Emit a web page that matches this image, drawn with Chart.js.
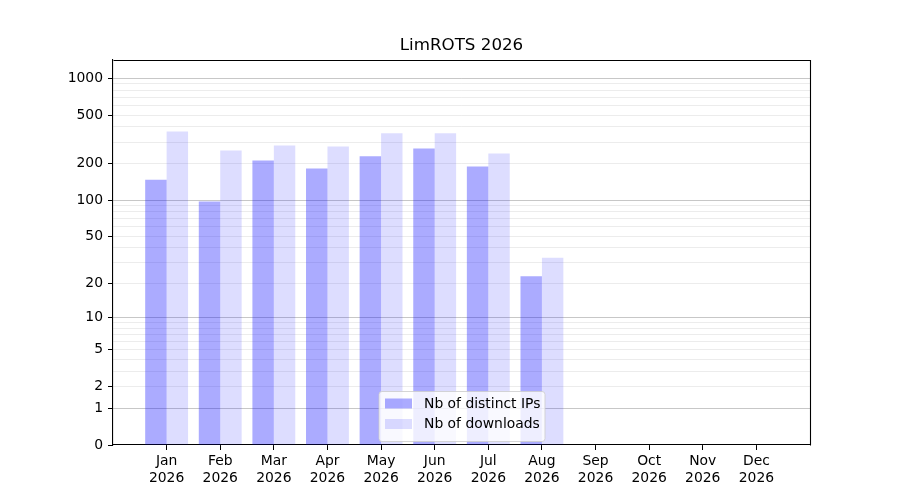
<!DOCTYPE html>
<html>
<head>
<meta charset="utf-8">
<title>LimROTS 2026</title>
<script src="https://cdn.jsdelivr.net/npm/chart.js@4.4.1/dist/chart.umd.min.js"></script>
<style>
  html, body { margin: 0; padding: 0; background: #ffffff; }
  #wrap { width: 900px; height: 500px; }
</style>
</head>
<body>
<div id="wrap"><canvas id="downloadsChart" width="900" height="500"></canvas></div>
<script>
/* ---- data ---- */
const MONTHS = ["Jan", "Feb", "Mar", "Apr", "May", "Jun", "Jul", "Aug", "Sep", "Oct", "Nov", "Dec"];
const YEAR = "2026";
const DISTINCT_IPS = [147, 97, 212, 182, 229, 266, 189, 23, 0, 0, 0, 0];
const DOWNLOADS = [367, 256, 281, 276, 354, 354, 242, 33, 0, 0, 0, 0];
const Y_LABELED = [0, 1, 2, 5, 10, 20, 50, 100, 200, 500, 1000];
const Y_MAJOR_GRID = [1, 10, 100, 1000];
const Y_MINOR = [3, 4, 6, 7, 8, 9, 30, 40, 60, 70, 80, 90, 300, 400, 600, 700, 800, 900];
const Y_MAX = 1410;

const FONT = "'DejaVu Sans', sans-serif";

// the y axis is log10(1 + x)
const fwd = (v) => Math.log10(1 + v);

const Y_TICKS = Y_LABELED.concat(Y_MINOR).sort((a, b) => a - b);

/**
 * Draws the top/right spines and the in-axes legend box.
 */
const framePlugin = {
  id: "frame",
  afterDatasetsDraw(chart) {
    const { ctx, chartArea: a } = chart;
    ctx.save();
    ctx.strokeStyle = "#000";
    ctx.lineWidth = 1.1;
    ctx.beginPath();
    ctx.moveTo(Math.round(a.left) + 0.5, Math.round(a.top) + 0.5);
    ctx.lineTo(Math.round(a.right) + 0.5, Math.round(a.top) + 0.5);
    ctx.lineTo(Math.round(a.right) + 0.5, Math.round(a.bottom) + 0.5);
    ctx.stroke();

    // legend, lower center
    const ds = chart.data.datasets;
    const boxW = 166, boxH = 50;
    const x0 = (a.left + a.right) / 2 - boxW / 2 + 0.5;
    const y0 = a.bottom - 3.5 - boxH;
    ctx.beginPath();
    ctx.roundRect(x0, y0, boxW, boxH, 3);
    ctx.fillStyle = "rgba(255,255,255,0.8)";
    ctx.fill();
    ctx.strokeStyle = "rgba(204,204,204,0.8)";
    ctx.lineWidth = 1;
    ctx.stroke();
    ctx.font = "13.9px " + FONT;
    ctx.textBaseline = "middle";
    ds.forEach((d, i) => {
      const cy = y0 + 12 + i * 20.5;
      ctx.fillStyle = d.backgroundColor;
      ctx.fillRect(x0 + 6, cy - 5, 27, 10);
      ctx.fillStyle = "#000";
      ctx.fillText(d.label, x0 + 45, cy + 0.5);
    });
    ctx.restore();
  },
};

function initChart() {
  const el = document.getElementById("downloadsChart");

  new Chart(el, {
    type: "bar",
    data: {
      datasets: [
        {
          label: "Nb of distinct IPs",
          data: DISTINCT_IPS.map((v, i) => ({ x: i, y: fwd(v) })),
          backgroundColor: "rgba(0,0,255,0.33)",
          borderWidth: 0,
          categoryPercentage: 0.8,
          barPercentage: 1.0,
        },
        {
          label: "Nb of downloads",
          data: DOWNLOADS.map((v, i) => ({ x: i, y: fwd(v) })),
          backgroundColor: "rgba(0,0,255,0.135)",
          borderWidth: 0,
          categoryPercentage: 0.8,
          barPercentage: 1.0,
        },
      ],
    },
    options: {
      responsive: false,
      animation: false,
      layout: { padding: { left: 0, right: 90, top: 0, bottom: 0 } },
      plugins: {
        legend: { display: false },
        tooltip: { enabled: false },
        title: {
          display: true,
          text: "LimROTS 2026",
          fullSize: false,
          color: "#000",
          font: { family: FONT, size: 16.7, weight: "normal", lineHeight: 1.2 },
          padding: { top: 36, bottom: 4 },
        },
      },
      scales: {
        x: {
          type: "linear",
          min: -1,
          max: 12,
          offset: false,
          afterFit(scale) { scale.height = 55; },
          afterBuildTicks(scale) {
            scale.ticks = MONTHS.map((m, i) => ({ value: i }));
          },
          grid: { offset: false, drawOnChartArea: false, drawTicks: true, tickLength: 5, tickColor: "#000", lineWidth: 1 },
          border: { display: true, color: "#000", width: 1.1 },
          ticks: {
            autoSkip: false,
            maxRotation: 0,
            padding: 3,
            color: "#000",
            font: { family: FONT, size: 13.9, lineHeight: 1.2 },
            callback: (value) => [MONTHS[value], YEAR],
          },
        },
        y: {
          type: "linear",
          min: 0,
          max: fwd(Y_MAX),
          afterFit(scale) { scale.width = 113; },
          afterBuildTicks(scale) {
            scale.ticks = Y_TICKS.map((v) => ({ value: fwd(v) }));
          },
          grid: {
            drawTicks: true,
            tickLength: 5,
            lineWidth: 1,
            color: (c) => {
              const raw = Y_TICKS[c.index];
              if (raw === 0) return "rgba(0,0,0,0)";
              return Y_MAJOR_GRID.includes(raw) ? "rgba(0,0,0,0.22)" : "rgba(0,0,0,0.075)";
            },
            tickColor: (c) => (Y_LABELED.includes(Y_TICKS[c.index]) ? "#000" : "rgba(0,0,0,0)"),
          },
          border: { display: true, color: "#000", width: 1.1 },
          ticks: {
            autoSkip: false,
            padding: 5,
            color: "#000",
            font: { family: FONT, size: 13.9 },
            callback: (value, index) => {
              const raw = Y_TICKS[index];
              return Y_LABELED.includes(raw) ? String(raw) : "";
            },
          },
        },
      },
    },
    plugins: [framePlugin],
  });
}

initChart();
</script>
</body>
</html>
